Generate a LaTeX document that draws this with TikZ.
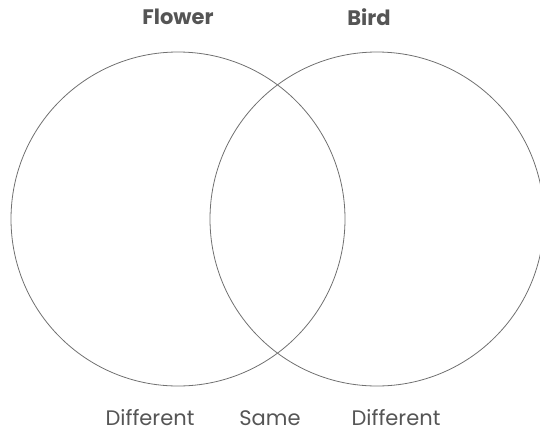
\documentclass[tikz,border=0pt]{standalone}
\usepackage{fontspec}
\setmainfont{Poppins}
\definecolor{txt}{HTML}{555555}
\definecolor{ring}{HTML}{707070}
\begin{document}
\begin{tikzpicture}[x=1pt,y=-1pt,
  ringstyle/.style={draw=ring,line width=0.8pt},
  head/.style={text=txt,font=\fontsize{21}{24}\selectfont\bfseries,inner sep=0pt},
  lab/.style={text=txt,font=\fontsize{21}{24}\selectfont,inner sep=0pt}]
\useasboundingbox (0,0) rectangle (540,434);
\begin{scope}
\clip (0,0) rectangle (540,434);
\node[ringstyle,circle,minimum size=334pt,inner sep=0pt] (flower) at (178,219) {};
\node[ringstyle,circle,minimum size=334pt,inner sep=0pt] (bird) at (377,219) {};
\end{scope}
\node[head] (tf) at (178,17) {Flower};
\node[head] (tb) at (369,17) {Bird};
\node[lab] (d1) at (150,418) {Different};
\node[lab] (s) at (270,418) {Same};
\node[lab] (d2) at (396,418) {Different};
\end{tikzpicture}
\end{document}
